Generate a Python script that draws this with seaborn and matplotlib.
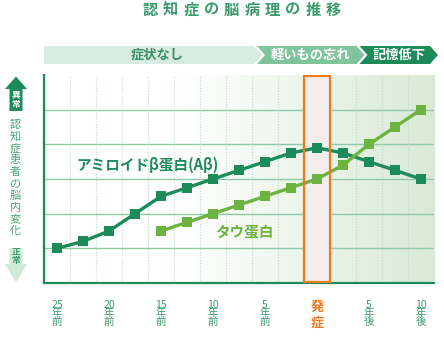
import numpy as np
import pandas as pd
import matplotlib
matplotlib.use("Agg")
import matplotlib.pyplot as plt
import seaborn as sns
from matplotlib.patches import Polygon, Rectangle
from matplotlib.colors import LinearSegmentedColormap

# ---- data ----
years = [-25, -22.5, -20, -17.5, -15, -12.5, -10, -7.5, -5, -2.5, 0, 2.5, 5, 7.5, 10]
abeta = [1.0, 1.2, 1.5, 2.0, 2.5, 2.75, 3.0, 3.25, 3.5, 3.75, 3.9, 3.75, 3.5, 3.25, 3.0]
tau_years = [-15, -12.5, -10, -7.5, -5, -2.5, 0, 2.5, 5, 7.5, 10]
tau = [1.5, 1.75, 2.0, 2.25, 2.5, 2.75, 3.0, 3.4, 4.0, 4.5, 5.0]
tick_pos = [-25, -20, -15, -10, -5, 0, 5, 10]
tick_labels = ["25\n年\n前", "20\n年\n前", "15\n年\n前", "10\n年\n前", "5\n年\n前", "発\n症", "5\n年\n後", "10\n年\n後"]
series_names = ["アミロイドβ蛋白(Aβ)", "タウ蛋白"]
stages = ["症状なし", "軽いもの忘れ", "記憶低下"]
title = "認知症の脳病理の推移"
ylabel = "認知症患者の脳内変化"

df = pd.concat([
    pd.DataFrame({"year": years, "value": abeta, "series": series_names[0]}),
    pd.DataFrame({"year": tau_years, "value": tau, "series": series_names[1]}),
])

sns.set_theme(style="white")
plt.rcParams["font.family"] = ["Noto Sans CJK JP", "DejaVu Sans"]

DARK = "#1d8a5a"
LIGHT = "#6cb33f"
GRID = "#8dcaa7"
TXT = "#3a9c6c"
ORANGE = "#ef7a1d"

fig = plt.figure(figsize=(4.44, 3.44), dpi=100)
fig.patch.set_facecolor("white")

W, H = 444, 344
L, R, B, T = 44, 434, 283, 75
ax = fig.add_axes([L / W, 1 - B / H, (R - L) / W, (B - T) / H])
xlim = (-26.25, 11.25)
ylim = (0, 6)
ax.set_xlim(*xlim)
ax.set_ylim(*ylim)

# background gradient
cmap = LinearSegmentedColormap.from_list("bg", [(0, "#ffffff"), (0.35, "#ffffff"), (1, "#d9ead4")])
grad = np.linspace(0, 1, 256).reshape(1, -1)
ax.imshow(grad, extent=[xlim[0], xlim[1], ylim[0], ylim[1]], aspect="auto", cmap=cmap, zorder=0)

# grid lines
for yv in [1, 2, 3, 4, 5]:
    ax.axhline(yv, color=GRID, lw=1.0, zorder=1)
for xv in np.arange(-23.75, 10, 2.5):
    ax.axvline(xv, color="#b9d9c8", lw=0.8, ls=(0, (1, 1.5)), zorder=1)

# onset rectangle
ax.add_patch(Rectangle((-1.25, 0), 2.5, 6, facecolor="#f3eeec", edgecolor="none", zorder=2))
ax.add_patch(Rectangle((-1.25, 0.02), 2.5, 5.96, facecolor="none", edgecolor=ORANGE, lw=1.6, zorder=6))

sns.lineplot(data=df, x="year", y="value", hue="series", palette=[DARK, LIGHT],
             style="series", markers=["s", "s"], dashes=False, markersize=7.5,
             markeredgewidth=0, lw=2.4, legend=False, ax=ax, zorder=5)

ax.text(-23.1, 3.4, series_names[0], color=DARK, fontsize=10.5, fontweight="bold", va="center", ha="left")
ax.text(-9.8, 1.48, series_names[1], color=LIGHT, fontsize=10.5, fontweight="bold", va="center", ha="left")

for s in ["top", "right"]:
    ax.spines[s].set_visible(False)
ax.spines["left"].set_color(DARK)
ax.spines["bottom"].set_color(DARK)
ax.spines["left"].set_linewidth(1.6)
ax.spines["bottom"].set_linewidth(1.6)
ax.set_yticks([])
ax.set_xticks(tick_pos)
ax.set_xticklabels(tick_labels)
ax.tick_params(axis="x", length=0, pad=12)
for lab in ax.get_xticklabels():
    if lab.get_text().startswith("発"):
        lab.set_color(ORANGE)
        lab.set_fontsize(9.5)
        lab.set_fontweight("bold")
        lab.set_linespacing(1.2)
    else:
        lab.set_color(TXT)
        lab.set_fontsize(7.6)
        lab.set_linespacing(0.8)
ax.set_xlabel("")
ax.set_ylabel("")

# overlay axes in pixel coordinates for decorations
ov = fig.add_axes([0, 0, 1, 1], zorder=10)
ov.set_xlim(0, W)
ov.set_ylim(H, 0)
ov.axis("off")
ov.patch.set_alpha(0)

# title (letter-spaced)
for i, ch in enumerate(title):
    ov.text(150 + i * 20.4, 10, ch, color=TXT, fontsize=11, fontweight="bold", ha="center", va="center")

# banner
yt, yb, ym = 46, 64, 55
segs = [
    [(44, yt), (254, yt), (262, ym), (254, yb), (44, yb)],
    [(257, yt), (356.5, yt), (364.5, ym), (356.5, yb), (257, yb), (265, ym)],
    [(359.5, yt), (430, yt), (438, ym), (430, yb), (359.5, yb), (367.5, ym)],
]
seg_cols = ["#d7ede0", "#7fc49d", "#1d8a5a"]
txt_cols = ["#3b8d62", "white", "white"]
centers = [157, 310, 399]
for pts, c, tc, cx, s in zip(segs, seg_cols, txt_cols, centers, stages):
    ov.add_patch(Polygon(pts, closed=True, facecolor=c, edgecolor="none"))
    ov.text(cx, ym, s, color=tc, fontsize=9.5, fontweight="bold", ha="center", va="center")

# left arrows
ov.add_patch(Polygon([(16, 76.5), (27, 89), (22.5, 89), (22.5, 111), (9.5, 111), (9.5, 89), (5, 89)],
                     closed=True, facecolor=DARK, edgecolor="none"))
ov.text(16, 95, "異", color="white", fontsize=6.3, fontweight="bold", ha="center", va="center")
ov.text(16, 104, "常", color="white", fontsize=6.3, fontweight="bold", ha="center", va="center")
ov.add_patch(Polygon([(9.5, 248), (22.5, 248), (22.5, 264), (27, 264), (16, 283), (5, 264), (9.5, 264)],
                     closed=True, facecolor="#cfeadb", edgecolor="none"))
ov.text(16, 252.5, "正", color=TXT, fontsize=6.3, fontweight="bold", ha="center", va="center")
ov.text(16, 261, "常", color=TXT, fontsize=6.3, fontweight="bold", ha="center", va="center")
for i, ch in enumerate(ylabel):
    ov.text(15.5, 125 + i * 11.8, ch, color="#4aa678", fontsize=8, ha="center", va="center")

fig.savefig("out.png", dpi=100)
